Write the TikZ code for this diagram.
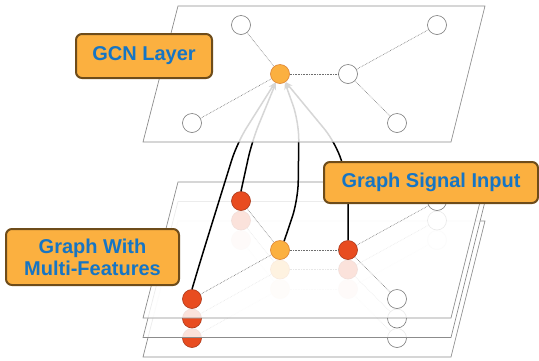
\documentclass[tikz,border=0pt]{standalone}
\usepackage{fontspec}
\setsansfont{Liberation Sans}
\usetikzlibrary{arrows.meta}
\definecolor{planegray}{RGB}{140,140,140}
\definecolor{linkgray}{RGB}{110,110,110}
\definecolor{vtxgray}{RGB}{120,120,120}
\definecolor{nodered}{RGB}{232,76,32}
\definecolor{reddark}{RGB}{170,55,25}
\definecolor{nodeorange}{RGB}{251,176,64}
\definecolor{orangedark}{RGB}{220,130,50}
\definecolor{tagfill}{RGB}{251,176,64}
\definecolor{tagborder}{RGB}{110,76,26}
\definecolor{tagblue}{RGB}{22,117,196}
\pgfdeclarelayer{lower}
\pgfdeclarelayer{feeds}
\pgfsetlayers{lower,feeds,main}
\begin{document}
\begin{tikzpicture}[x=1pt,y=-1pt,
  plane/.style={draw=planegray, line width=0.7pt, fill=white, fill opacity=0.84},
  link/.style={draw=linkgray, densely dotted, line width=0.6pt},
  vtx/.style={circle, minimum size=19pt, inner sep=0pt, line width=0.6pt},
  blank/.style={vtx, draw=vtxgray, fill=white},
  hot/.style={vtx, draw=reddark, fill=nodered},
  hub/.style={vtx, draw=orangedark, fill=nodeorange},
  tag/.style={draw=tagborder, line width=2pt, fill=tagfill, rounded corners=6pt,
    text=tagblue, font=\sffamily\bfseries\fontsize{20}{22}\selectfont, align=center},
  feed/.style={black, line width=1.5pt, rounded corners=18pt,
    -{Stealth[length=7pt,width=6pt]}}
]
\useasboundingbox (0,0) rectangle (539,360);

% stacked feature planes, drawn from the bottom one upwards
\begin{pgfonlayer}{lower}
\foreach \k/\dy in {3/215, 2/195.5, 1/176} {
  \begin{scope}[shift={(0,\dy)}]
    \draw[plane] (178,6) -- (485,6) -- (451,142) -- (143,142) -- cycle;
    \node[hot]   (L\k-tl) at (241,25)  {};
    \node[blank] (L\k-tr) at (437,25)  {};
    \node[hub]   (L\k-c)  at (280,74)  {};
    \node[hot]   (L\k-r)  at (348,74)  {};
    \node[hot]   (L\k-bl) at (192,123) {};
    \node[blank] (L\k-br) at (397,123) {};
    \draw[link] (L\k-tl) -- (L\k-c);
    \draw[link] (L\k-c) -- (L\k-r);
    \draw[link] (L\k-r) -- (L\k-tr);
    \draw[link] (L\k-r) -- (L\k-br);
    \draw[link] (L\k-bl) -- (L\k-c);
  \end{scope}
}
\end{pgfonlayer}

% GCN layer plane
\draw[plane] (178,6) -- (485,6) -- (451,142) -- (143,142) -- cycle;
\node[blank] (G-tl) at (241,25)  {};
\node[blank] (G-tr) at (437,25)  {};
\node[hub]   (G-c)  at (280,74)  {};
\node[blank] (G-r)  at (348,74)  {};
\node[blank] (G-bl) at (192,123) {};
\node[blank] (G-br) at (397,123) {};
\draw[link] (G-tl) -- (G-c);
\draw[link] (G-c) -- (G-r);
\draw[link] (G-r) -- (G-tr);
\draw[link] (G-r) -- (G-br);
\draw[link] (G-bl) -- (G-c);

% signal paths from the input graph into the GCN layer
\begin{pgfonlayer}{feeds}
\draw[feed] (L1-bl.north) -- (201,259) -- (237,143) -- (G-c.-120);
\draw[feed] (L1-tl.north) -- (252,141) -- (G-c.-115);
\draw[feed] (L1-c.65) -- (298,200) -- (299,122) -- (G-c.-60);
\draw[feed] (L1-r.north) -- (348,182) -- (336,143) -- (G-c.-55);
\end{pgfonlayer}

% captions
\node[tag, minimum width=136pt, minimum height=44pt] (capGCN) at (144,56) {GCN Layer};
\node[tag, minimum width=214pt, minimum height=41pt] (capSig) at (431,182.5) {Graph Signal Input};
\node[tag, minimum width=173pt, minimum height=56pt] (capMF) at (92.5,257) {Graph With\\Multi-Features};
\end{tikzpicture}
\end{document}
